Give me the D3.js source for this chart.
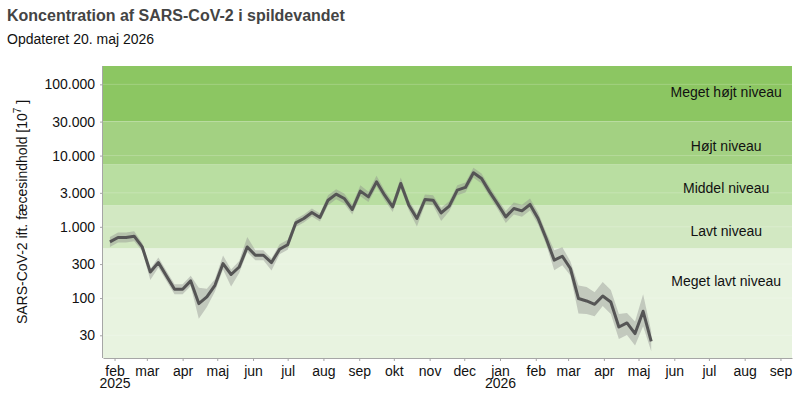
<!DOCTYPE html>
<html>
<head>
<meta charset="utf-8">
<script src="https://cdn.jsdelivr.net/npm/d3@7"></script>
<style>
  body { margin: 0; background: #fff; font-family: "Liberation Sans", Arial, sans-serif; }
  .axis text { font-size: 14px; fill: #111; font-family: "Liberation Sans", Arial, sans-serif; }
  .axis path, .axis line { stroke: #a6a6a6; }
</style>
</head>
<body>
<script>
// weekly concentration (x 10^7), first week starts 28 jan 2025
const firstWeek = new Date(2025, 0, 28);
const values = [614, 708, 708, 738, 522, 232, 315, 204, 133, 133,
  174, 83.6, 104, 151, 305, 214, 273, 522, 399, 399,
  315, 485, 561, 1135, 1309, 1589, 1352, 2366, 2873, 2500,
  1751, 3169, 2633, 4279, 2783, 1905, 4062, 2013, 1309, 2421,
  2366, 1569, 1949, 3272, 3570, 5725, 4775, 3096, 2080, 1378,
  1809, 1675, 2060, 1309, 685, 340, 386, 260, 98.4, 91,
  81.8, 107, 88.1, 39.2, 44.7, 31.7, 65.2, 24.7];
const lower = [522, 602, 602, 628, 459, 179, 268, 173, 113, 113,
  148, 51.4, 75, 124, 251, 145, 225, 444, 339, 339,
  243, 412, 477, 997, 1150, 1396, 1188, 2012, 2443, 2126,
  1489, 2695, 2239, 3639, 2367, 1620, 3454, 1712, 1010, 2059,
  2012, 1211, 1657, 2782, 3036, 4868, 4060, 2633, 1769, 1135,
  1490, 1380, 1697, 1078, 564, 246, 288, 207, 60.6, 59.8,
  55.5, 77.4, 59.7, 26.6, 30.3, 21.5, 40.1, 17.9];
const upper = [722, 833, 833, 868, 594, 256, 370, 240, 156, 156,
  205, 140, 135, 183, 395, 252, 331, 721, 469, 469,
  358, 570, 660, 1292, 1490, 1808, 1539, 2782, 3379, 2940,
  2059, 3847, 3096, 5195, 3273, 2240, 4931, 2367, 1539, 2847,
  2782, 1845, 2292, 3848, 4198, 6733, 5615, 3641, 2446, 1673,
  2196, 2033, 2501, 1589, 832, 470, 516, 326, 150, 143,
  121, 168, 130, 59.7, 61.8, 46.8, 113, 34.1];

const levelNames = ["Meget lavt niveau", "Lavt niveau", "Middel niveau", "Højt niveau", "Meget højt niveau"];
const levelBreaks = [500, 2000, 7500, 30000];
const levelLabelAt = [172, 877, 3450, 13700, 77000];
const levelColors = ["#e8f3e0", "#d2e8c2", "#b9dea1", "#a3d182", "#8cc662"];

const yTicks = [30, 100, 300, 1000, 3000, 10000, 30000, 100000];
const monthNames = ["jan", "feb", "mar", "apr", "maj", "jun", "jul", "aug", "sep", "okt", "nov", "dec"];

const width = 800, height = 400;
const margin = {top: 66, right: 8, bottom: 42, left: 103};
const innerW = width - margin.left - margin.right;
const innerH = height - margin.top - margin.bottom;

const dates = values.map((v, i) => d3.timeDay.offset(firstWeek, 7 * i));

const x = d3.scaleTime()
  .domain([new Date(2025, 0, 22), new Date(2026, 8, 11)])
  .range([0, innerW]);

const y = d3.scaleLog()
  .domain([14.4, 181000])
  .range([innerH, 0]);

const dk = d3.formatLocale({decimal: ",", thousands: ".", grouping: [3], currency: ["", " kr."]});
const fmt = dk.format(",d");

const svg = d3.select("body").append("svg")
  .attr("width", width)
  .attr("height", height);

svg.append("text")
  .attr("x", 7).attr("y", 21)
  .style("font-size", "16px").style("font-weight", "bold").style("fill", "#444")
  .text("Koncentration af SARS-CoV-2 i spildevandet");

svg.append("text")
  .attr("x", 7).attr("y", 44)
  .style("font-size", "14px").style("fill", "#111")
  .text("Opdateret 20. maj 2026");

const g = svg.append("g")
  .attr("transform", "translate(" + margin.left + "," + margin.top + ")");

// level bands
const bandEdges = [y.domain()[0]].concat(levelBreaks, [y.domain()[1]]);
g.selectAll(".band")
  .data(levelNames)
  .enter().append("rect")
    .attr("class", "band")
    .attr("x", 0)
    .attr("width", innerW)
    .attr("y", (d, i) => y(bandEdges[i + 1]))
    .attr("height", (d, i) => y(bandEdges[i]) - y(bandEdges[i + 1]))
    .attr("fill", (d, i) => levelColors[i]);

// faint grid
g.selectAll(".grid")
  .data(yTicks)
  .enter().append("line")
    .attr("x1", 0).attr("x2", innerW)
    .attr("y1", d => y(d)).attr("y2", d => y(d))
    .attr("stroke", "#fff").attr("stroke-opacity", 0.2);

g.selectAll(".lvl")
  .data(levelNames)
  .enter().append("text")
    .attr("x", x(new Date(2026, 6, 16)))
    .attr("y", (d, i) => y(levelLabelAt[i]))
    .attr("dy", "0.35em")
    .attr("text-anchor", "middle")
    .style("font-size", "14px").style("fill", "#111")
    .text(d => d);

// confidence band + line
const area = d3.area()
  .x((d, i) => x(dates[i]))
  .y0((d, i) => y(lower[i]))
  .y1((d, i) => y(upper[i]));

g.append("path")
  .datum(values)
  .attr("d", area)
  .attr("fill", "#8a8a8a")
  .attr("fill-opacity", 0.4);

const line = d3.line()
  .x((d, i) => x(dates[i]))
  .y(d => y(d));

g.append("path")
  .datum(values)
  .attr("d", line)
  .attr("fill", "none")
  .attr("stroke", "#555")
  .attr("stroke-width", 3)
  .attr("stroke-linejoin", "round");

// axes
const yAxis = g.append("g")
  .attr("class", "axis")
  .call(d3.axisLeft(y).tickValues(yTicks).tickFormat(fmt).tickSize(3).tickPadding(5));

const xAxis = g.append("g")
  .attr("class", "axis")
  .attr("transform", "translate(0," + innerH + ")")
  .call(d3.axisBottom(x).ticks(d3.timeMonth.every(1)).tickFormat(d => monthNames[d.getMonth()]).tickSize(3).tickPadding(5).tickSizeOuter(0));
yAxis.select(".domain").attr("d", "M-0.5," + innerH + "V0");

xAxis.selectAll(".tick")
  .filter((d, i) => i === 0 || d.getMonth() === 0)
  .append("text")
    .attr("y", 20)
    .attr("dy", "0.71em")
    .attr("fill", "#111")
    .text(d => d.getFullYear());

svg.append("text")
  .attr("transform", "translate(22," + (margin.top + innerH / 2) + ") rotate(-90)")
  .attr("text-anchor", "middle")
  .attr("dy", "0.35em")
  .style("font-size", "14px").style("fill", "#111")
  .html('SARS-CoV-2 ift. fæcesindhold [10<tspan dy="-6" font-size="10px">7</tspan><tspan dy="6"> ]</tspan>');
</script>
</body>
</html>
